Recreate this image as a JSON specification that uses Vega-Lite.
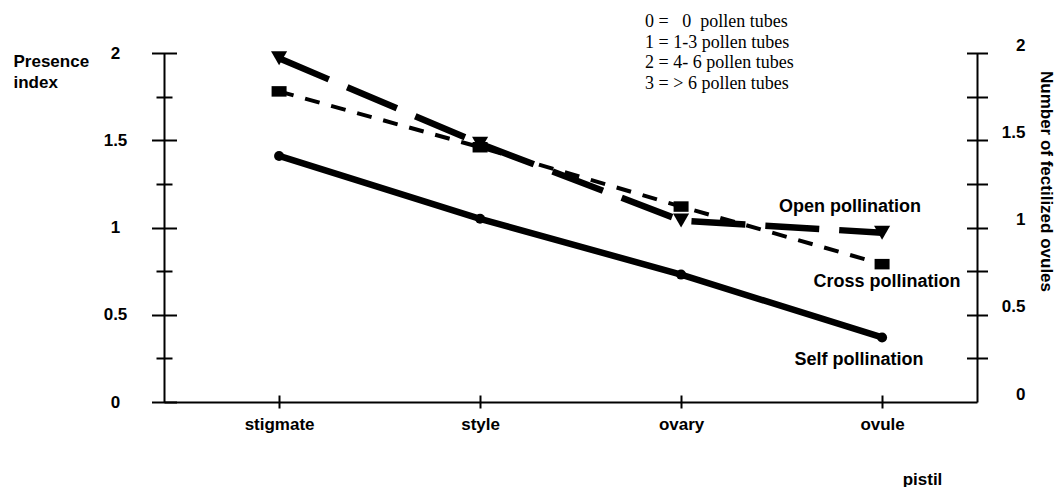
{
  "$schema": "https://vega.github.io/schema/vega-lite/v6.json",
  "width": 813,
  "height": 349,
  "autosize": {"type": "none"},
  "padding": {"left": 164, "top": 53, "right": 80, "bottom": 85},
  "background": "white",
  "config": {
    "view": {"stroke": null},
    "font": "Liberation Sans",
    "axis": {
      "grid": false,
      "domainColor": "black",
      "tickColor": "black",
      "labelColor": "black",
      "titleColor": "black",
      "labelFont": "Liberation Sans",
      "titleFont": "Liberation Sans",
      "labelFontSize": 17,
      "titleFontSize": 17,
      "labelFontWeight": "bold",
      "titleFontWeight": "bold",
      "domainWidth": 2,
      "tickWidth": 2,
      "labelFlush": false,
      "labelOverlap": false
    }
  },
  "data": {
    "values": [
      {"series": "Self pollination", "part": "stigmate", "value": 1.41},
      {"series": "Self pollination", "part": "style", "value": 1.05},
      {"series": "Self pollination", "part": "ovary", "value": 0.73},
      {"series": "Self pollination", "part": "ovule", "value": 0.37},
      {"series": "Cross pollination", "part": "stigmate", "value": 1.78},
      {"series": "Cross pollination", "part": "style", "value": 1.46},
      {"series": "Cross pollination", "part": "ovary", "value": 1.12},
      {"series": "Cross pollination", "part": "ovule", "value": 0.79},
      {"series": "Open pollination", "part": "stigmate", "value": 1.97},
      {"series": "Open pollination", "part": "style", "value": 1.48},
      {"series": "Open pollination", "part": "ovary", "value": 1.04},
      {"series": "Open pollination", "part": "ovule", "value": 0.97}
    ]
  },
  "resolve": {"axis": {"x": "independent", "y": "independent"}},
  "layer": [
    {
      "transform": [{"filter": "datum.series == 'Self pollination'"}],
      "mark": {"type": "line", "color": "black", "strokeWidth": 6.5},
      "encoding": {
        "x": {"field": "part", "type": "nominal",
              "scale": {"type": "point", "domain": ["stigmate", "style", "ovary", "ovule"], "padding": 0.5224, "align": 0.548},
              "axis": {"orient": "bottom", "ticks": false, "domain": true, "labelPadding": 14, "labelAngle": 0,
                       "title": "pistil", "titleX": 758, "titleY": 82, "titleAlign": "center", "titleBaseline": "alphabetic"}},
        "y": {"field": "value", "type": "quantitative",
              "scale": {"domain": [0, 2], "nice": false, "zero": true},
              "axis": {"orient": "left", "values": [0, 0.5, 1, 1.5, 2], "format": "~g", "ticks": false, "domain": true,
                       "labelAlign": "center", "labelBaseline": "middle", "labelPadding": 49,
                       "title": ["Presence", "index"], "titleAngle": 0, "titleAlign": "left", "titleBaseline": "alphabetic",
                       "titleX": -151, "titleY": 13, "titleLineHeight": 21}},
        "order": {"value": null}
      }
    },
    {
      "transform": [{"filter": "datum.series == 'Cross pollination'"}],
      "mark": {"type": "line", "color": "black", "strokeWidth": 4, "strokeDash": [15, 12]},
      "encoding": {
        "x": {"field": "part", "type": "nominal",
              "scale": {"type": "point", "domain": ["stigmate", "style", "ovary", "ovule"], "padding": 0.5224, "align": 0.548},
              "axis": {"orient": "bottom", "ticks": true, "tickSize": 13, "offset": -7, "domain": false, "labels": false, "title": null}},
        "y": {"field": "value", "type": "quantitative",
              "scale": {"domain": [0, 2], "nice": false, "zero": true},
              "axis": {"orient": "left", "values": [0, 0.5, 1, 1.5, 2], "ticks": true, "tickSize": 25, "offset": -12.5,
                       "domain": false, "labels": false, "title": null}},
        "order": {"value": null}
      }
    },
    {
      "transform": [{"filter": "datum.series == 'Open pollination'"}],
      "mark": {"type": "line", "color": "black", "strokeWidth": 6.5, "strokeDash": [54, 20]},
      "encoding": {
        "x": {"field": "part", "type": "nominal",
              "scale": {"type": "point", "domain": ["stigmate", "style", "ovary", "ovule"], "padding": 0.5224, "align": 0.548},
              "axis": null},
        "y": {"field": "value", "type": "quantitative",
              "scale": {"domain": [0, 2], "nice": false, "zero": true},
              "axis": {"orient": "left", "values": [0.25, 0.75, 1.25, 1.75], "ticks": true, "tickSize": 16, "offset": -8,
                       "domain": false, "labels": false, "title": null}},
        "order": {"value": null}
      }
    },
    {
      "transform": [{"filter": "datum.series == 'Self pollination'"}],
      "mark": {"type": "point", "shape": "circle", "filled": true, "color": "black", "size": 100, "opacity": 1},
      "encoding": {
        "x": {"field": "part", "type": "nominal",
              "scale": {"type": "point", "domain": ["stigmate", "style", "ovary", "ovule"], "padding": 0.5224, "align": 0.548},
              "axis": null},
        "y": {"field": "value", "type": "quantitative",
              "scale": {"domain": [0, 2], "nice": false, "zero": true},
              "axis": {"orient": "right", "values": [0, 0.5, 1, 1.5, 2], "format": "~g", "ticks": false, "domain": true,
                       "labelAlign": "right", "labelBaseline": "middle", "labelPadding": 48, "labelOffset": -8,
                       "title": "Number of fectilized ovules", "titleAngle": 90, "titleAlign": "center", "titleBaseline": "middle",
                       "titleX": 68, "titleY": 128}}
      }
    },
    {
      "transform": [{"filter": "datum.series == 'Cross pollination'"}],
      "mark": {"type": "point", "shape": "M-1,-0.7L1,-0.7L1,0.7L-1,0.7Z", "filled": true, "color": "black", "size": 225, "opacity": 1},
      "encoding": {
        "x": {"field": "part", "type": "nominal",
              "scale": {"type": "point", "domain": ["stigmate", "style", "ovary", "ovule"], "padding": 0.5224, "align": 0.548},
              "axis": null},
        "y": {"field": "value", "type": "quantitative",
              "scale": {"domain": [0, 2], "nice": false, "zero": true},
              "axis": {"orient": "right", "values": [0.25, 0.5, 0.75, 1, 1.25, 1.5, 1.75, 2], "ticks": true, "tickSize": 21, "offset": -10.5,
                       "domain": false, "labels": false, "title": null}}
      }
    },
    {
      "transform": [{"filter": "datum.series == 'Open pollination'"}],
      "mark": {"type": "point", "shape": "triangle-down", "filled": true, "color": "black", "size": 260, "opacity": 1},
      "encoding": {
        "x": {"field": "part", "type": "nominal",
              "scale": {"type": "point", "domain": ["stigmate", "style", "ovary", "ovule"], "padding": 0.5224, "align": 0.548},
              "axis": null},
        "y": {"field": "value", "type": "quantitative",
              "scale": {"domain": [0, 2], "nice": false, "zero": true},
              "axis": null}
      }
    },
    {
      "transform": [{"filter": "datum.series == 'Open pollination' && datum.part == 'ovule'"}],
      "mark": {"type": "text", "font": "Liberation Sans", "fontWeight": "bold", "fontSize": 18, "align": "center", "baseline": "alphabetic", "dx": -32, "dy": -21, "color": "black"},
      "encoding": {
        "x": {"field": "part", "type": "nominal", "axis": null,
              "scale": {"type": "point", "domain": ["stigmate", "style", "ovary", "ovule"], "padding": 0.5224, "align": 0.548}},
        "y": {"field": "value", "type": "quantitative", "axis": null, "scale": {"domain": [0, 2], "nice": false, "zero": true}},
        "text": {"field": "series"}
      }
    },
    {
      "transform": [{"filter": "datum.series == 'Cross pollination' && datum.part == 'ovule'"}],
      "mark": {"type": "text", "font": "Liberation Sans", "fontWeight": "bold", "fontSize": 18, "align": "center", "baseline": "alphabetic", "dx": 5, "dy": 23, "color": "black"},
      "encoding": {
        "x": {"field": "part", "type": "nominal", "axis": null,
              "scale": {"type": "point", "domain": ["stigmate", "style", "ovary", "ovule"], "padding": 0.5224, "align": 0.548}},
        "y": {"field": "value", "type": "quantitative", "axis": null, "scale": {"domain": [0, 2], "nice": false, "zero": true}},
        "text": {"field": "series"}
      }
    },
    {
      "transform": [{"filter": "datum.series == 'Self pollination' && datum.part == 'ovule'"}],
      "mark": {"type": "text", "font": "Liberation Sans", "fontWeight": "bold", "fontSize": 18, "align": "center", "baseline": "alphabetic", "dx": -23, "dy": 28, "color": "black"},
      "encoding": {
        "x": {"field": "part", "type": "nominal", "axis": null,
              "scale": {"type": "point", "domain": ["stigmate", "style", "ovary", "ovule"], "padding": 0.5224, "align": 0.548}},
        "y": {"field": "value", "type": "quantitative", "axis": null, "scale": {"domain": [0, 2], "nice": false, "zero": true}},
        "text": {"field": "series"}
      }
    },
    {
      "data": {"values": [{"note": "pollen tube scale"}]},
      "mark": {"type": "text", "font": "Liberation Serif", "fontSize": 18, "align": "left", "baseline": "alphabetic",
               "dx": -36, "dy": -26, "lineHeight": 20.5, "color": "black",
               "text": ["0 =\u00a0\u00a0 0\u00a0 pollen tubes", "1 = 1-3 pollen tubes", "2 = 4- 6 pollen tubes", "3 = > 6 pollen tubes"]},
      "encoding": {
        "x": {"datum": "ovary", "type": "nominal", "axis": null,
              "scale": {"type": "point", "domain": ["stigmate", "style", "ovary", "ovule"], "padding": 0.5224, "align": 0.548}},
        "y": {"datum": 2, "type": "quantitative", "axis": null, "scale": {"domain": [0, 2], "nice": false, "zero": true}}
      }
    }
  ]
}
